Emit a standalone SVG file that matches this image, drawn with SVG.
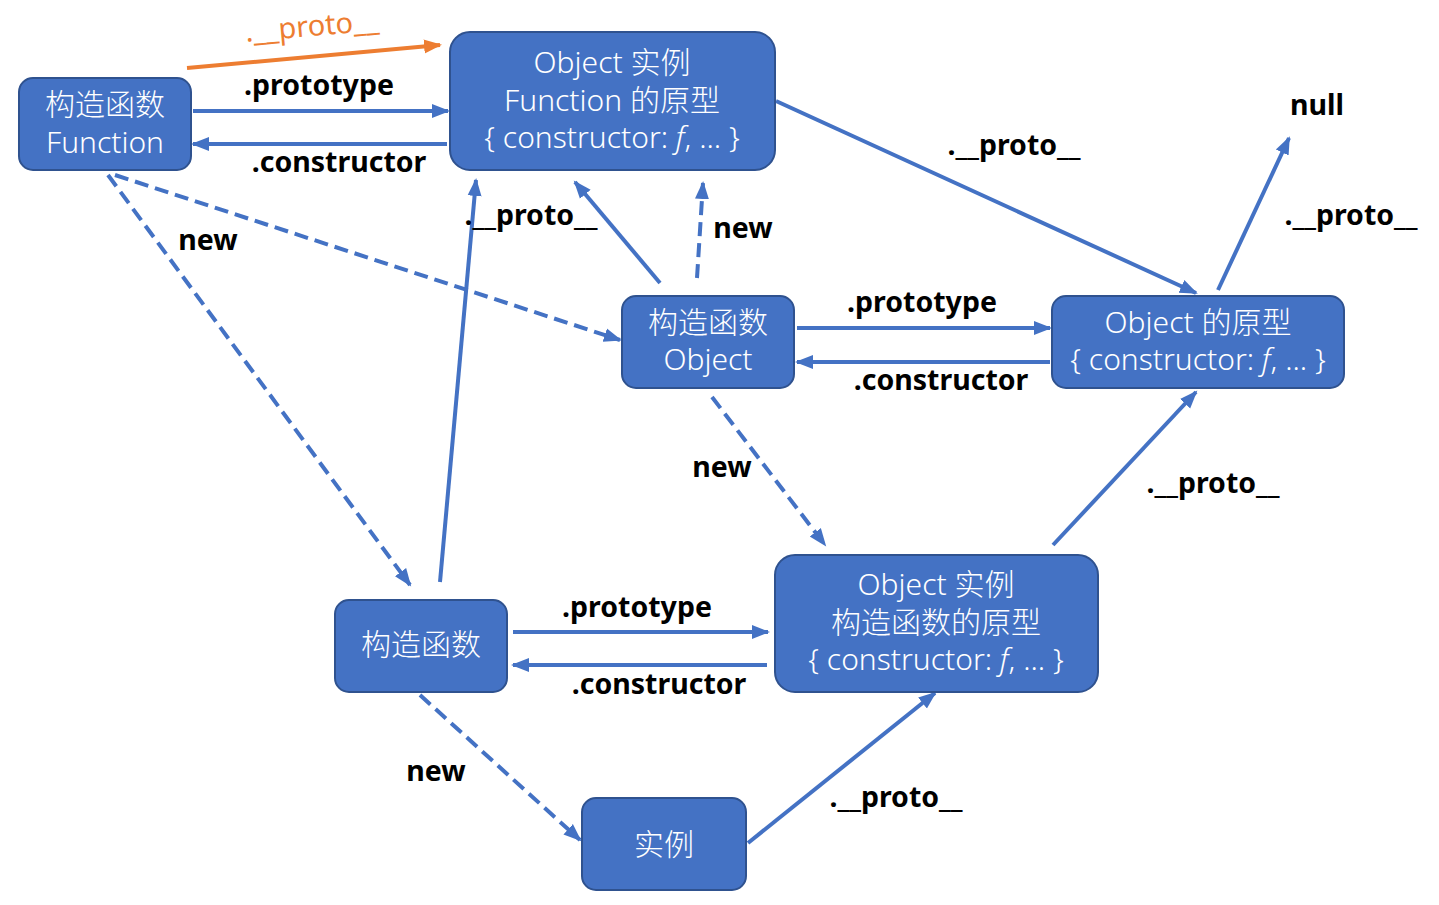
<svg xmlns="http://www.w3.org/2000/svg" width="1439" height="905" viewBox="0 0 1439 905">
<style>
.node rect{fill:#4472C4;stroke:#2F528F;stroke-width:2}
.node text{fill:#fff;font-family:"Noto Sans","Noto Sans CJK SC",sans-serif;font-size:30px;text-anchor:middle;font-weight:300}
.c{stroke:#4472C4;stroke-width:4;fill:none;marker-end:url(#ah)}
.d{stroke-dasharray:14 7}
.o{stroke:#ED7D31;marker-end:url(#ao)}
.lbl{font-family:"Noto Sans",sans-serif;font-weight:700;font-size:28.5px;fill:#000;text-anchor:middle}
</style>
<defs>
<marker id="ah" markerUnits="userSpaceOnUse" markerWidth="20" markerHeight="16" refX="16" refY="8" orient="auto"><path d="M0,1 L18,8 L0,15 z" fill="#4472C4"/></marker>
<marker id="ao" markerUnits="userSpaceOnUse" markerWidth="20" markerHeight="16" refX="16" refY="8" orient="auto"><path d="M0,1 L18,8 L0,15 z" fill="#ED7D31"/></marker>
</defs>
<rect width="1439" height="905" fill="#fff"/>
<g id="connectors">
<path class="c o" d="M187,68 L440,45"/>
<path class="c" d="M193,111 L448,111"/>
<path class="c" d="M447,144 L193,144"/>
<path class="c d" d="M115,175 L620,340"/>
<path class="c d" d="M108,175 L410,585"/>
<path class="c" d="M440,582 L476,180"/>
<path class="c" d="M660,283 L575,182"/>
<path class="c d" d="M697,278 L703,183"/>
<path class="c" d="M776,101 L1196,293"/>
<path class="c" d="M1218,290 L1289,138"/>
<path class="c" d="M797,328 L1050,328"/>
<path class="c" d="M1050,362 L797,362"/>
<path class="c d" d="M712,397 L825,545"/>
<path class="c" d="M1053,545 L1196,392"/>
<path class="c" d="M513,632 L768,632"/>
<path class="c" d="M767,665 L513,665"/>
<path class="c d" d="M420,695 L580,840"/>
<path class="c" d="M748,843 L935,693"/>
</g>
<g id="labels">
<text x="312" y="36" transform="rotate(-5 312 28)" style="font-family:'Noto Sans',sans-serif;font-size:29px;fill:#ED7D31;text-anchor:middle">.__proto__</text>
<text class="lbl" x="319" y="95">.prototype</text>
<text class="lbl" x="339" y="172">.constructor</text>
<text class="lbl" x="208" y="250">new</text>
<text class="lbl" x="531" y="225">.__proto__</text>
<text class="lbl" x="743" y="238">new</text>
<text class="lbl" x="1014" y="155">.__proto__</text>
<text class="lbl" x="1317" y="115">null</text>
<text class="lbl" x="1351" y="225">.__proto__</text>
<text class="lbl" x="922" y="312">.prototype</text>
<text class="lbl" x="941" y="390">.constructor</text>
<text class="lbl" x="722" y="477">new</text>
<text class="lbl" x="1213" y="493">.__proto__</text>
<text class="lbl" x="637" y="617">.prototype</text>
<text class="lbl" x="659" y="694">.constructor</text>
<text class="lbl" x="436" y="781">new</text>
<text class="lbl" x="896" y="807">.__proto__</text>
</g>
<g id="n1" class="node"><rect x="19" y="78" width="172" height="92" rx="14"/><text x="105" y="115">构造函数</text><text x="105" y="153">Function</text></g>
<g id="n2" class="node"><rect x="450" y="32" width="325" height="138" rx="20"/><text x="612" y="73">Object 实例</text><text x="612" y="111">Function 的原型</text><text x="612" y="148">{ constructor: <tspan font-style="italic">f</tspan>, ... }</text></g>
<g id="n3" class="node"><rect x="622" y="296" width="172" height="92" rx="14"/><text x="708" y="333">构造函数</text><text x="708" y="370">Object</text></g>
<g id="n4" class="node"><rect x="1052" y="296" width="292" height="92" rx="14"/><text x="1198" y="333">Object 的原型</text><text x="1198" y="370">{ constructor: <tspan font-style="italic">f</tspan>, ... }</text></g>
<g id="n5" class="node"><rect x="335" y="600" width="172" height="92" rx="14"/><text x="421" y="655">构造函数</text></g>
<g id="n6" class="node"><rect x="775" y="555" width="323" height="137" rx="20"/><text x="936" y="595">Object 实例</text><text x="936" y="633">构造函数的原型</text><text x="936" y="670">{ constructor: <tspan font-style="italic">f</tspan>, ... }</text></g>
<g id="n7" class="node"><rect x="582" y="798" width="164" height="92" rx="14"/><text x="664" y="855">实例</text></g>
</svg>
